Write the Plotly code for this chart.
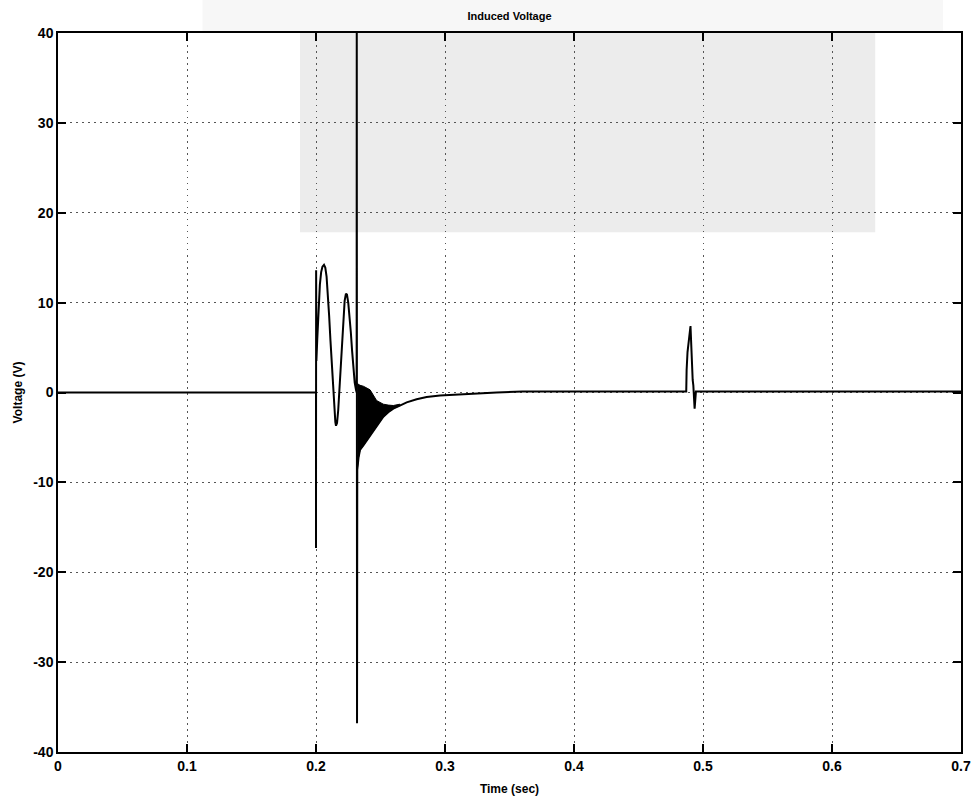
import plotly.graph_objects as go

# --- waveform data (time in s, voltage in V) ---
# quiet period and first switching transient, up to the large spike
t_pre = [0.0, 0.2000, 0.2000, 0.2001, 0.2003, 0.2010, 0.2020, 0.2030, 0.2040,
         0.2050, 0.2062, 0.2072, 0.2082, 0.2092, 0.2102, 0.2112, 0.2122, 0.2132,
         0.2142, 0.2150, 0.2155, 0.2163, 0.2172, 0.2182, 0.2192, 0.2202, 0.2212,
         0.2222, 0.2232, 0.2240, 0.2250, 0.2260, 0.2270, 0.2280, 0.2290, 0.2300,
         0.2310, 0.2315, 0.2316, 0.2318]
v_pre = [0.0, 0.0, -17.3, 13.6, 3.5, 6.0, 9.5, 12.0, 13.4,
         14.0, 14.2, 13.9, 12.9, 11.0, 8.5, 5.8, 3.0, 0.4,
         -1.9, -3.3, -3.7, -3.4, -2.0, 0.3, 3.0, 5.8, 8.3,
         10.2, 11.0, 10.9, 10.0, 8.6, 6.7, 4.6, 2.6, 1.1,
         0.3, 0.0, 45.0, -36.8]

# high-frequency ringing after the spike: upper and lower envelope
t_ring = [0.2320, 0.2330, 0.2341, 0.2367, 0.2419, 0.2470, 0.2522, 0.2560, 0.2599, 0.2650]
ring_upper = [1.0, 0.9, 0.8, 0.7, 0.3, -0.9, -1.3, -1.4, -1.45, -1.3]
ring_lower = [-8.6, -7.2, -6.4, -5.9, -4.8, -3.7, -2.7, -2.2, -1.8, -1.45]

# exponential recovery and the second, smaller transient
t_post = [0.2703, 0.2780, 0.2858, 0.2961, 0.3100, 0.3217, 0.3400, 0.3600,
          0.4870, 0.4873, 0.4880, 0.4903, 0.4912, 0.4920, 0.4925, 0.4935,
          0.4945, 0.7000]
v_post = [-1.1, -0.75, -0.5, -0.33, -0.2, -0.1, 0.0, 0.1,
          0.1, 2.5, 4.5, 7.4, 3.0, 1.4, 0.8, -1.8,
          0.1, 0.1]

x_ticks = [0, 0.1, 0.2, 0.3, 0.4, 0.5, 0.6, 0.7]
x_labels = ["0", "0.1", "0.2", "0.3", "0.4", "0.5", "0.6", "0.7"]
y_ticks = [-40, -30, -20, -10, 0, 10, 20, 30, 40]
y_labels = ["-40", "-30", "-20", "-10", "0", "10", "20", "30", "40"]

FONT = "Liberation Sans, Arial, Helvetica, sans-serif"

fig = go.Figure()

# ringing band
fig.add_trace(go.Scatter(
    x=t_ring + t_ring[::-1],
    y=ring_upper + ring_lower[::-1],
    fill="toself", fillcolor="black",
    line=dict(color="black", width=1),
    mode="lines", hoverinfo="skip", showlegend=False,
))

# main voltage trace
fig.add_trace(go.Scatter(
    x=t_pre + t_ring + t_post,
    y=v_pre + ring_lower + v_post,
    mode="lines",
    line=dict(color="black", width=2),
    showlegend=False,
))

axis_common = dict(
    showline=True, linecolor="black", linewidth=1.5, mirror="allticks",
    ticks="inside", ticklen=8, tickwidth=1.5, tickcolor="black",
    showgrid=True, gridcolor="#555555", gridwidth=1.2, griddash="1.5px,4.5px",
    zeroline=False, automargin=False,
    tickfont=dict(family=FONT, size=14, color="black", weight="bold"),
)

fig.update_xaxes(
    range=[0, 0.7], tickvals=x_ticks, ticktext=x_labels,
    title=dict(text="Time (sec)", standoff=12,
               font=dict(family=FONT, size=12, color="black", weight="bold")),
    **axis_common,
)
fig.update_yaxes(
    range=[-40, 40], tickvals=y_ticks, ticktext=y_labels,
    title=dict(text="Voltage (V)", standoff=8,
               font=dict(family=FONT, size=12, color="black", weight="bold")),
    **axis_common,
)

# faint grey paper tone behind the upper part of the plot
fig.add_shape(
    type="rect", xref="paper", yref="paper",
    x0=0.268, x1=0.905, y0=0.723, y1=1.0,
    fillcolor="#ececec", line=dict(width=0), layer="below",
)
fig.add_shape(
    type="rect", xref="paper", yref="paper",
    x0=0.16, x1=0.98, y0=1.0, y1=1.046,
    fillcolor="#f7f7f7", line=dict(width=0), layer="below",
)

fig.update_layout(
    width=980, height=797,
    margin=dict(l=58, r=19, t=33, b=45),
    paper_bgcolor="white", plot_bgcolor="rgba(0,0,0,0)",
    title=dict(text="Induced Voltage", x=0.5, xanchor="center",
               xref="paper", y=0.98, yanchor="middle",
               font=dict(family=FONT, size=11, color="black", weight="bold")),
)

fig.write_html("out.html")
